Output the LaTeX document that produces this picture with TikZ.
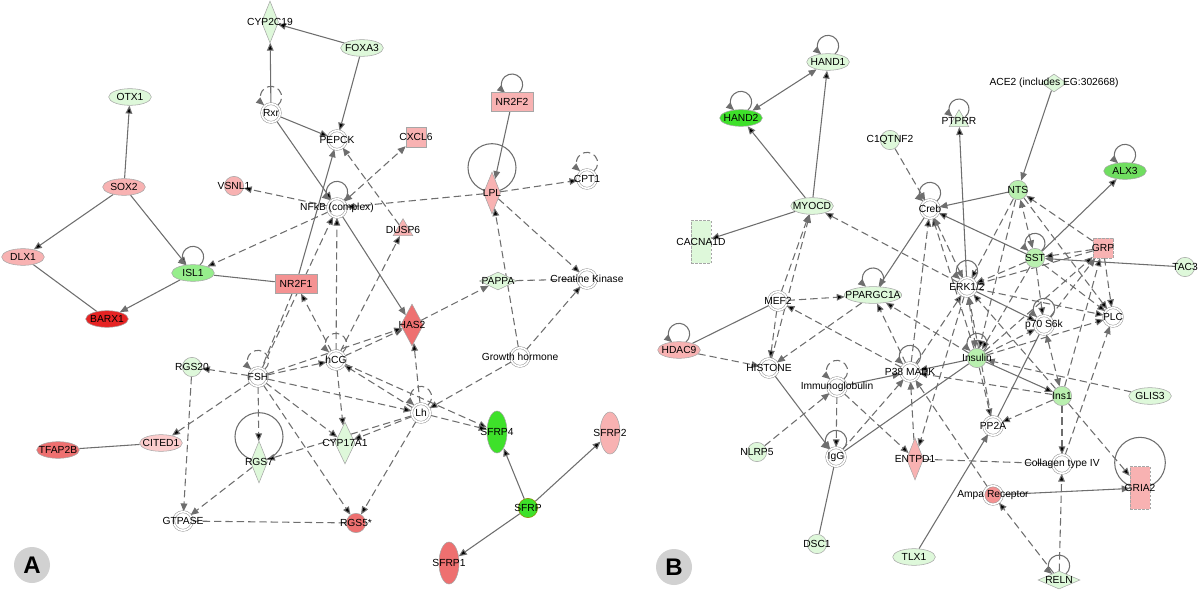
\documentclass[tikz,border=0pt]{standalone}
\usepackage{fontspec}
\setmainfont{Liberation Sans}
\usetikzlibrary{arrows.meta,shapes.geometric,backgrounds}
\definecolor{linkgray}{RGB}{110,110,110}
\definecolor{lgreen}{RGB}{222,248,218}
\definecolor{mgreen}{RGB}{185,240,175}
\definecolor{islgreen}{RGB}{150,238,140}
\definecolor{alxgreen}{RGB}{112,222,96}
\definecolor{bgreen}{RGB}{62,225,42}
\definecolor{lpink}{RGB}{248,178,178}
\definecolor{vlpink}{RGB}{252,204,204}
\definecolor{mpink}{RGB}{244,146,146}
\definecolor{dpink}{RGB}{238,112,112}
\definecolor{dred}{RGB}{230,35,35}
\newcommand{\genefont}{\fontsize{7.7}{8}\selectfont}
\newcommand{\nm}[1]{\makebox[0pt]{#1}}
\newcommand{\selfloop}[4][]{\draw[#1] ([shift={(-50:#4)},yshift=#3]#2.center) arc[start angle=-50,end angle=230,radius=#4];}

\begin{document}
\begin{tikzpicture}[x=0.75pt,y=-0.75pt,
  gene/.style={draw=black!35, line width=0.4pt, inner sep=0pt, font=\genefont},
  ell/.style={gene, ellipse, minimum width=32pt, minimum height=12.5pt},
  vell/.style={gene, ellipse, minimum width=15pt, minimum height=31.5pt},
  cplx/.style={gene, circle, draw=black!40, double=white, double distance=1.2pt, fill=white, minimum size=14pt},
  circ/.style={gene, circle, minimum size=14.5pt},
  rect/.style={gene, rectangle, minimum width=31.5pt, minimum height=14pt},
  sq/.style={gene, rectangle, minimum size=15pt},
  tallbox/.style={gene, rectangle, dash pattern=on 2pt off 1pt, minimum width=15pt, minimum height=32pt},
  vdmd/.style={gene, diamond, minimum width=12.75pt, minimum height=31.5pt},
  hdmd/.style={gene, diamond, minimum width=28pt, minimum height=13.5pt},
  tri/.style={gene, regular polygon, regular polygon sides=3, minimum size=17pt},
  panlbl/.style={circle, fill=black!18, minimum size=27pt, inner sep=0pt, font=\fontsize{18}{18}\selectfont\bfseries},
  lnk/.style={draw=linkgray, line width=0.8pt},
  act/.style={lnk, -{Triangle[length=6pt,width=5pt]}},
  both/.style={lnk, {Triangle[length=6pt,width=5pt]}-{Triangle[length=6pt,width=5pt]}},
  dsh/.style={dash pattern=on 5.5pt off 3pt},
]
\useasboundingbox (0,0) rectangle (1200,592);

% Panel A
\node[vdmd, fill=lgreen] (CYP2C19) at (270,22) {\nm{CYP2C19}};
\node[ell, fill=lgreen] (FOXA3) at (362,48) {\nm{FOXA3}};
\node[cplx] (Rxr) at (271,113) {\nm{Rxr}};
\node[cplx] (PEPCK) at (337,140) {\nm{PEPCK}};
\node[sq, fill=lpink] (CXCL6) at (416,137) {\nm{CXCL6}};
\node[rect, fill=lpink] (NR2F2) at (512,102) {\nm{NR2F2}};
\node[vdmd, fill=lpink] (LPL) at (492,193) {\nm{LPL}};
\node[cplx] (CPT1) at (587,179) {\nm{CPT1}};
\node[circ, fill=lpink] (VSNL1) at (234,186) {\nm{VSNL1}};
\node[cplx] (NFkB) at (337,208) {\nm{NFkB (complex)}};
\node[tri, fill=lpink] (DUSP6) at (403,230) {\nm{DUSP6}};
\node[ell, fill=lgreen] (OTX1) at (130,97) {\nm{OTX1}};
\node[ell, fill=lpink] (SOX2) at (124,187) {\nm{SOX2}};
\node[ell, fill=lpink] (DLX1) at (23,257) {\nm{DLX1}};
\node[ell, fill=islgreen] (ISL1) at (193,273) {\nm{ISL1}};
\node[rect, fill=mpink] (NR2F1) at (296,284) {\nm{NR2F1}};
\node[hdmd, fill=lgreen] (PAPPA) at (498,281) {\nm{PAPPA}};
\node[cplx] (CK) at (587,279) {\nm{Creatine Kinase}};
\node[vdmd, fill=dpink, minimum width=17pt] (HAS2) at (412,325) {\nm{HAS2}};
\node[cplx] (hCG) at (336,360) {\nm{hCG}};
\node[cplx] (GH) at (520,357) {\nm{Growth hormone}};
\node[cplx] (FSH) at (258,377) {\nm{FSH}};
\node[circ, fill=lgreen] (RGS20) at (192,367) {\nm{RGS20}};
\node[cplx] (Lh) at (421,413) {\nm{Lh}};
\node[vell, fill=bgreen] (SFRP4) at (497,432) {\nm{SFRP4}};
\node[vell, fill=lpink] (SFRP2) at (610,433) {\nm{SFRP2}};
\node[ell, fill=vlpink] (CITED1) at (161,443) {\nm{CITED1}};
\node[ell, fill=dpink] (TFAP2B) at (58,450) {\nm{TFAP2B}};
\node[vdmd, fill=lgreen] (RGS7) at (259,462) {\nm{RGS7}};
\node[vdmd, fill=lgreen, minimum width=15pt] (CYP17A1) at (345,443) {\nm{CYP17A1}};
\node[cplx] (GTPASE) at (183,521) {\nm{GTPASE}};
\node[circ, fill=dpink] (RGS5) at (356,523) {\nm{RGS5*}};
\node[circ, fill=bgreen, draw=olive] (SFRP) at (528,508) {\nm{SFRP}};
\node[vell, fill=dpink] (SFRP1) at (449,563) {\nm{SFRP1}};
\node[ell, fill=dred] (BARX1) at (107,319) {\nm{BARX1}};
\node[panlbl] (labA) at (32,565) {A};

% Panel B
\node[ell, fill=lgreen] (HAND1) at (828,62) {\nm{HAND1}};
\node[ell, fill=bgreen] (HAND2) at (741,118) {\nm{HAND2}};
\node[circ, fill=lgreen] (C1QTNF2) at (890,140) {\nm{C1QTNF2}};
\node[ell, fill=lgreen] (MYOCD) at (812,206) {\nm{MYOCD}};
\node[tallbox, fill=lgreen] (CACNA1D) at (701,242) {\nm{CACNA1D}};
\node[hdmd, fill=lgreen, minimum width=19pt] (ACE2) at (1054,83) {\nm{ACE2 (includes EG:302668)}};
\node[tri, fill=lgreen] (PTPRR) at (959,121) {\nm{PTPRR}};
\node[ell, fill=alxgreen] (ALX3) at (1125,171) {\nm{ALX3}};
\node[circ, fill=mgreen] (NTS) at (1018,190) {\nm{NTS}};
\node[cplx] (Creb) at (930,209) {\nm{Creb}};
\node[circ, fill=mgreen] (SST) at (1035,258) {\nm{SST}};
\node[sq, fill=lpink, dash pattern=on 2pt off 1pt] (GRP) at (1103,248) {\nm{GRP}};
\node[circ, fill=lgreen] (TAC3) at (1185,267) {\nm{TAC3}};
\node[cplx] (ERK) at (967,287) {\nm{ERK1/2}};
\node[ell, fill=lgreen, minimum width=43pt] (PPARGC1A) at (873,295) {\nm{PPARGC1A}};
\node[cplx] (MEF2) at (778,301) {\nm{MEF2}};
\node[ell, fill=lpink] (HDAC9) at (679,350) {\nm{HDAC9}};
\node[cplx] (HISTONE) at (769,368) {\nm{HISTONE}};
\node[cplx] (Ig) at (837,387) {\nm{Immunoglobulin}};
\node[cplx] (P38) at (910,372) {\nm{P38 MAPK}};
\node[circ, fill=mgreen] (Insulin) at (977,358) {\nm{Insulin}};
\node[cplx] (p70) at (1044,325) {\nm{p70 S6k}};
\node[cplx] (PLC) at (1113,317) {\nm{PLC}};
\node[circ, fill=mgreen] (Ins1) at (1062,396) {\nm{Ins1}};
\node[ell, fill=lgreen] (GLIS3) at (1150,396) {\nm{GLIS3}};
\node[circ, fill=lgreen] (NLRP5) at (757,452) {\nm{NLRP5}};
\node[cplx] (IgG) at (836,457) {\nm{IgG}};
\node[cplx] (PP2A) at (993,426) {\nm{PP2A}};
\node[vdmd, fill=lpink] (ENTPD1) at (915,459) {\nm{ENTPD1}};
\node[cplx] (Coll) at (1062,464) {\nm{Collagen type IV}};
\node[tallbox, fill=lpink] (GRIA2) at (1140,488) {\nm{GRIA2}};
\node[cplx, fill=mpink] (Ampa) at (993,495) {\nm{Ampa Receptor}};
\node[circ, fill=lgreen] (DSC1) at (817,544) {\nm{DSC1}};
\node[ell, fill=lgreen] (TLX1) at (914,557) {\nm{TLX1}};
\node[hdmd, fill=lgreen, minimum width=31.5pt] (RELN) at (1059,580) {\nm{RELN}};
\node[panlbl] (labB) at (674,567) {B};

\begin{scope}[on background layer]
% A: solid links
\draw[act] (Rxr) edge (CYP2C19) edge (PEPCK) edge (NFkB);
\draw[act] (FOXA3) edge (CYP2C19) edge (PEPCK);
\draw[act] (NR2F1) -- (PEPCK);
\draw[act] (NFkB) -- (HAS2);
\draw[act] (NR2F2) -- (LPL);
\draw[act] (SOX2) edge (OTX1) edge (DLX1) edge (ISL1);
\draw[act] (ISL1) -- (BARX1);
\draw[act] (SFRP) edge (SFRP4) edge (SFRP2) edge (SFRP1);
\draw[lnk] (NR2F1) -- (ISL1);
\draw[lnk] (DLX1) -- (BARX1);
\draw[lnk] (TFAP2B) -- (CITED1);
% A: dashed links
\draw[act,dsh] (DUSP6) -- (PEPCK);
\draw[both,dsh] (NFkB) -- (CXCL6);
\draw[act,dsh] (LPL) edge (NFkB) edge (CPT1) edge (CK);
\draw[act,dsh] (NFkB) edge (VSNL1) edge (ISL1);
\draw[act,dsh] (GH) edge (LPL) edge (CK) edge (Lh);
\draw[act,dsh] (HAS2) -- (PAPPA);
\draw[lnk,dsh] (PAPPA) -- (CK);
\draw[act,dsh] (hCG) edge (HAS2) edge (NFkB) edge (DUSP6) edge (NR2F1) edge (CYP17A1) edge (SFRP4);
\draw[act,dsh] (FSH) edge (HAS2) edge (NFkB) edge (RGS20) edge (hCG) edge (CITED1) edge (RGS7) edge (CYP17A1) edge (Lh) edge (RGS5);
\draw[act,dsh] (Lh) edge (HAS2) edge (hCG) edge (SFRP4) edge (CYP17A1) edge (RGS7) edge (RGS5);
\draw[lnk,dsh] (NR2F1) -- (FSH);
\draw[act,dsh] (RGS20) -- (GTPASE);
\draw[act,dsh] (RGS7) -- (GTPASE);
\draw[lnk,dsh] (RGS5) -- (GTPASE);
% A: loops
\selfloop[act,dsh]{Rxr}{12pt}{8pt}
\selfloop[act]{NFkB}{12pt}{8pt}
\selfloop[act]{NR2F2}{13pt}{8pt}
\selfloop[act,dsh]{CPT1}{12pt}{8pt}
\selfloop[act]{ISL1}{12pt}{8pt}
\selfloop[act,dsh]{hCG}{12pt}{8pt}
\selfloop[act,dsh]{FSH}{12pt}{8pt}
\selfloop[act,dsh]{Lh}{12pt}{8pt}
\draw[lnk] ([yshift=19pt]LPL.center) circle[radius=18pt];
\draw[lnk] ([yshift=19pt]RGS7.center) circle[radius=18pt];

% B: solid links
\draw[act] (MYOCD) edge (HAND1) edge (HAND2) edge (CACNA1D);
\draw[both] (HAND2) -- (HAND1);
\draw[act] (Creb) -- (PPARGC1A);
\draw[act] (NTS) -- (Creb);
\draw[act] (SST) edge (Creb) edge (ALX3);
\draw[act] (ACE2) -- (NTS);
\draw[act] (ERK) edge (PTPRR) edge (p70);
\draw[act] (TAC3) -- (SST);
\draw[act] (Ig) -- (P38);
\draw[act] (Insulin) edge (P38) edge (Ins1);
\draw[act] (HISTONE) -- (IgG);
\draw[act] (Ampa) -- (GRIA2);
\draw[act] (TLX1) -- (PP2A);
\draw[lnk] (DSC1) -- (IgG);
\draw[lnk] (IgG) -- (Insulin);
\draw[lnk] (PP2A) -- (p70);
\draw[lnk] (HDAC9) -- (MEF2);
% B: dashed links
\draw[act,dsh] (MEF2) edge (MYOCD) edge (PPARGC1A) edge (HISTONE);
\draw[act,dsh] (HISTONE) -- (MYOCD);
\draw[act,dsh] (ERK) edge (MYOCD) edge (PLC) edge (ENTPD1);
\draw[both,dsh] (ERK) -- (Insulin);
\draw[act,dsh] (HDAC9) -- (HISTONE);
\draw[act,dsh] (PPARGC1A) -- (HISTONE);
\draw[act,dsh] (P38) edge (MEF2) edge (PPARGC1A) edge (Creb) edge (ERK);
\draw[act,dsh] (Insulin) edge (PPARGC1A) edge (Creb) edge (PP2A) edge (p70) edge (PLC) edge (GRP);
\draw[act,dsh] (C1QTNF2) -- (Creb);
\draw[act,dsh] (GRP) edge (NTS) edge (SST) edge (ERK) edge (PLC);
\draw[act,dsh] (SST) edge (ERK) edge (p70) edge (PLC) edge (Insulin);
\draw[act,dsh] (NTS) edge (ERK) edge (PLC) edge (Insulin);
\draw[both,dsh] (Creb) -- (ERK);
\draw[both,dsh] (SST) -- (NTS);
\draw[both,dsh] (p70) -- (Ins1);
\draw[act,dsh] (PP2A) -- (ERK);
\draw[act,dsh] (Ins1) edge (ERK) edge (PP2A) edge (P38) edge (Coll) edge (GRIA2) edge (GRP);
\draw[act,dsh] (p70) -- (GRP);
\draw[act,dsh] (Ig) edge (IgG) edge (ENTPD1);
\draw[act,dsh] (NLRP5) -- (Ig);
\draw[act,dsh] (IgG) -- (P38);
\draw[act,dsh] (ENTPD1) -- (P38);
\draw[act,dsh] (Ampa) -- (P38);
\draw[act,dsh] (RELN) edge (Ampa) edge (Coll);
\draw[act,dsh] (GLIS3) -- (Insulin);
\draw[act,dsh] (Coll) -- (PLC);
\draw[lnk,dsh] (ENTPD1) -- (Coll);
% B: loops
\selfloop[act]{HAND1}{12pt}{8pt}
\selfloop[act]{HAND2}{12pt}{8pt}
\selfloop[act]{ALX3}{12pt}{8pt}
\selfloop[act]{HDAC9}{12pt}{8pt}
\selfloop[act]{PPARGC1A}{12.3pt}{8pt}
\selfloop[act]{PTPRR}{9pt}{7.5pt}
\selfloop[act]{Creb}{12pt}{8pt}
\selfloop[act]{ERK}{12pt}{8pt}
\selfloop[act]{P38}{12pt}{8pt}
\selfloop[act]{p70}{12pt}{8pt}
\selfloop[act]{IgG}{12pt}{8pt}
\selfloop[act,dsh]{Ig}{12pt}{8pt}
\selfloop[act]{SST}{11pt}{7.5pt}
\selfloop[act]{Insulin}{11pt}{7.5pt}
\selfloop[act]{RELN}{10.7pt}{8pt}
\draw[lnk] ([yshift=19pt]GRIA2.center) circle[radius=19pt];
\end{scope}
\end{tikzpicture}
\end{document}
